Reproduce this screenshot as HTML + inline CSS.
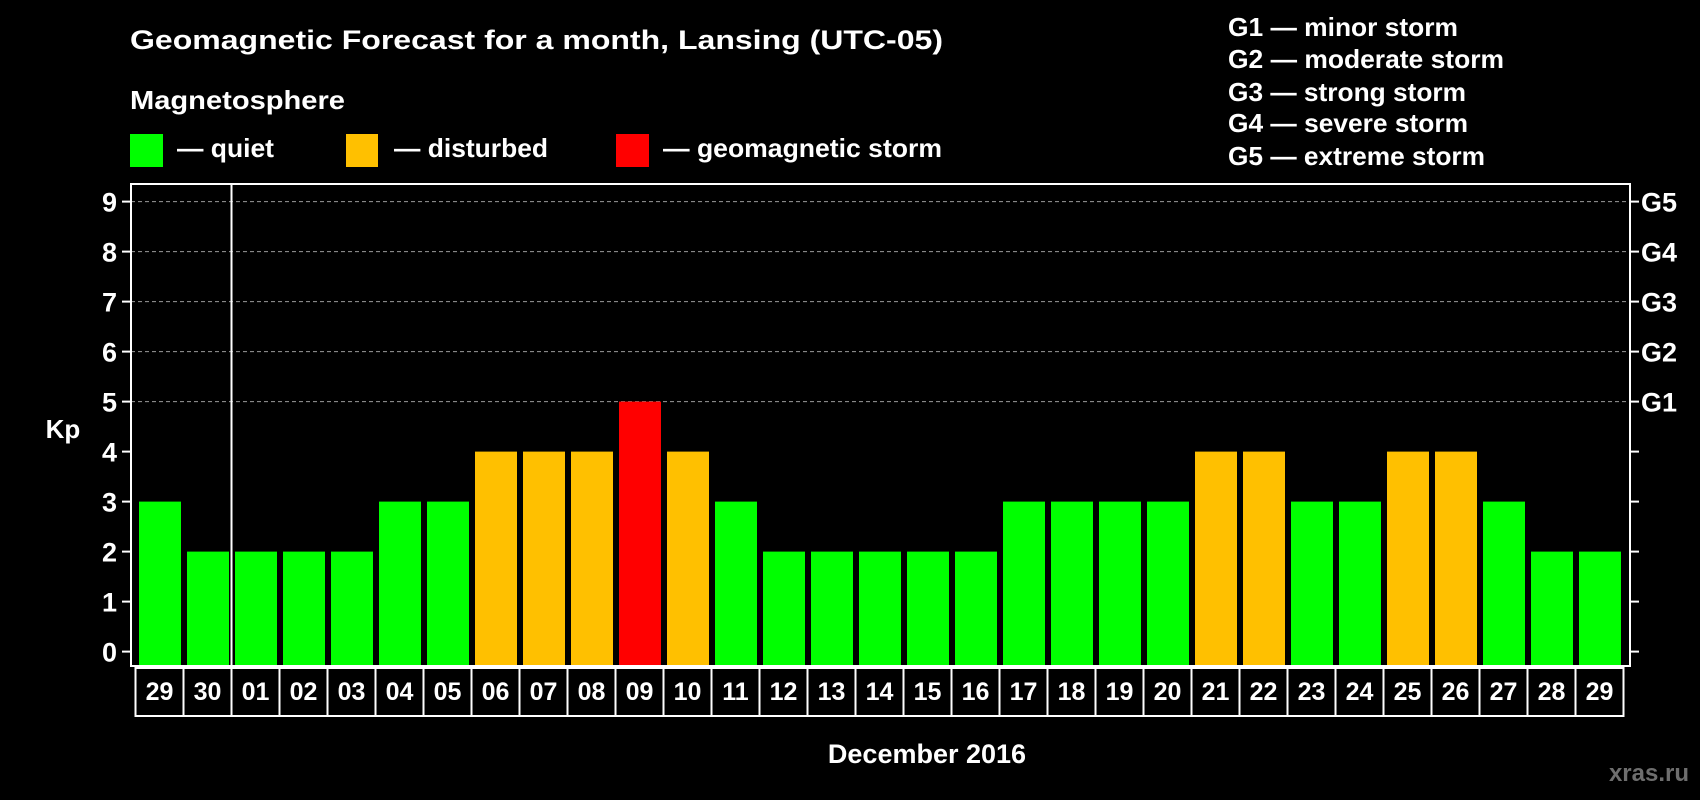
<!DOCTYPE html>
<html><head><meta charset="utf-8">
<style>
html,body{margin:0;padding:0;background:#000;}
svg{display:block;}
text{font-family:"Liberation Sans",sans-serif;font-weight:bold;fill:#fff;}
</style></head>
<body>
<svg id="chart" width="1700" height="800" viewBox="0 0 1700 800" xmlns="http://www.w3.org/2000/svg">
  <text x="130" y="49" font-size="27" textLength="813" lengthAdjust="spacingAndGlyphs">Geomagnetic Forecast for a month, Lansing (UTC-05)</text>
  <text x="130" y="109" font-size="26" textLength="215" lengthAdjust="spacingAndGlyphs">Magnetosphere</text>
  <rect x="130" y="134" width="33" height="33" fill="#00ff00"/>
  <text x="177" y="157" font-size="26" textLength="97" lengthAdjust="spacingAndGlyphs">— quiet</text>
  <rect x="346" y="134" width="32" height="33" fill="#ffc000"/>
  <text x="394" y="157" font-size="26" textLength="154" lengthAdjust="spacingAndGlyphs">— disturbed</text>
  <rect x="616" y="134" width="33" height="33" fill="#ff0000"/>
  <text x="663" y="157" font-size="26" textLength="279" lengthAdjust="spacingAndGlyphs">— geomagnetic storm</text>

  <g>
    <text x="1228" y="36" font-size="26" textLength="230" lengthAdjust="spacingAndGlyphs">G1 — minor storm</text>
    <text x="1228" y="68" font-size="26" textLength="276" lengthAdjust="spacingAndGlyphs">G2 — moderate storm</text>
    <text x="1228" y="101" font-size="26" textLength="238" lengthAdjust="spacingAndGlyphs">G3 — strong storm</text>
    <text x="1228" y="132" font-size="26" textLength="240" lengthAdjust="spacingAndGlyphs">G4 — severe storm</text>
    <text x="1228" y="165" font-size="26" textLength="257" lengthAdjust="spacingAndGlyphs">G5 — extreme storm</text>
  </g>

  <g id="grid"></g>
  <g id="bars"></g>
  <g id="axes"></g>

  <text x="63" y="438" font-size="26" text-anchor="middle">Kp</text>
  <text x="927" y="763" font-size="27" text-anchor="middle">December 2016</text>
  <text x="1689" y="781" font-size="24" text-anchor="end" style="fill:#6e6e6e">xras.ru</text>
</svg>
<script>
const days = ["29","30","01","02","03","04","05","06","07","08","09","10","11","12","13","14","15","16","17","18","19","20","21","22","23","24","25","26","27","28","29"];
const kpValues = [3,2,2,2,2,3,3,4,4,4,5,4,3,2,2,2,2,2,3,3,3,3,4,4,3,3,4,4,3,2,2];
const yTicks = [0,1,2,3,4,5,6,7,8,9];
const gLabels = ["G1","G2","G3","G4","G5"];

const NS = "http://www.w3.org/2000/svg";
const boxL = 131, boxR = 1630, boxT = 184, boxB = 666;
const y0 = 651.6, unit = 50;
const firstCell = 135.5, cellW = 48;
function yScale(v){ return y0 - v * unit; }
function xCell(i){ return firstCell + i * cellW; }
function mk(tag, attrs, parent){
  const e = document.createElementNS(NS, tag);
  for (const k in attrs) e.setAttribute(k, attrs[k]);
  parent.appendChild(e);
  return e;
}
function color(v){ return v >= 5 ? "#ff0000" : (v >= 4 ? "#ffc000" : "#00ff00"); }

const grid = document.getElementById("grid");
const bars = document.getElementById("bars");
const axes = document.getElementById("axes");

yTicks.forEach(t => {
  if (t >= 5) {
    const l = mk("line", {x1: boxL, x2: boxR, y1: yScale(t), y2: yScale(t), stroke: "#9a9a9a", "stroke-width": 1, "stroke-dasharray": "4,3"}, grid);
    
    
  }
});

kpValues.forEach((v, i) => {
  const x = xCell(i) + 3.5;
  const r = mk("rect", {x: x, y: yScale(v), width: 42, height: boxB - yScale(v), fill: color(v)}, bars);
  
  
});

const box = mk("rect", {x: boxL, y: boxT, width: boxR - boxL, height: boxB - boxT, fill: "none", stroke: "#fff", "stroke-width": 2}, axes);


const div = mk("line", {x1: xCell(2), x2: xCell(2), y1: boxT, y2: boxB, stroke: "#fff", "stroke-width": 2}, axes);



yTicks.forEach(t => {
  const y = yScale(t);
  const a = mk("line", {x1: 122, x2: boxL, y1: y, y2: y, stroke: "#fff", "stroke-width": 2}, axes);
  
  
  const b = mk("line", {x1: boxR, x2: 1639, y1: y, y2: y, stroke: "#fff", "stroke-width": 2}, axes);
  
  
  const tx = mk("text", {x: 117, y: y + 10, "font-size": 27, "text-anchor": "end"}, axes);
  tx.textContent = t;
  
  
});
gLabels.forEach((g, i) => {
  const tx = mk("text", {x: 1641, y: yScale(5 + i) + 10, "font-size": 27}, axes);
  tx.textContent = g;
  
  
});

days.forEach((d, i) => {
  const x = xCell(i);
  const c = mk("rect", {x: x, y: 668, width: cellW, height: 48, fill: "none", stroke: "#fff", "stroke-width": 2}, axes);
  
  
  const tx = mk("text", {x: x + cellW / 2, y: 700, "font-size": 25, "text-anchor": "middle"}, axes);
  tx.textContent = d;
  
  
});
</script>
</body></html>
